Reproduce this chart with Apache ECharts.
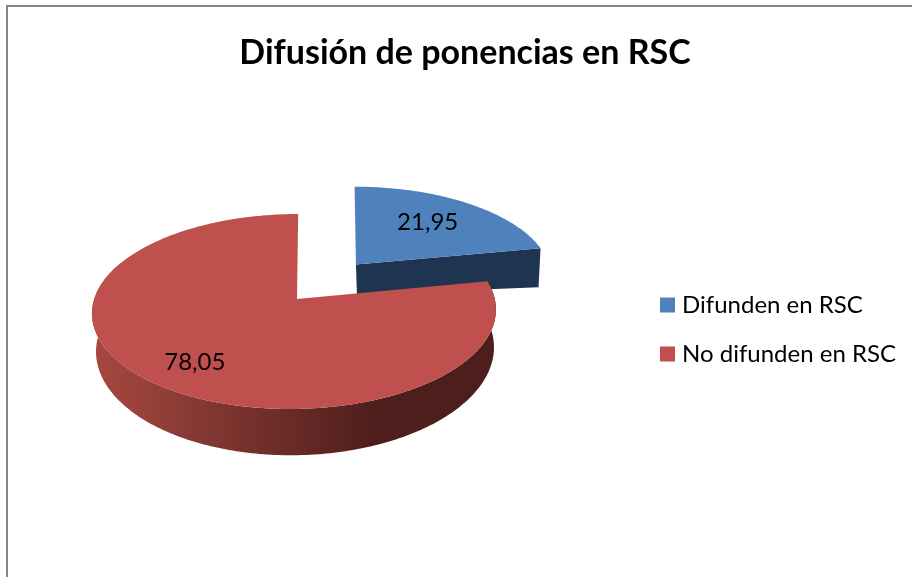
<!DOCTYPE html>
<html>
<head>
<meta charset="utf-8">
<title>Difusión de ponencias en RSC</title>
<script src="https://cdn.jsdelivr.net/npm/echarts@6/dist/echarts.min.js"></script>
<style>
  html, body { margin: 0; padding: 0; background: #fff; }
  #chart { width: 912px; height: 577px; }
</style>
</head>
<body>
<div id="chart"></div>
<script>
var categories = ['Difunden en RSC', 'No difunden en RSC']
var values = [21.95, 78.05]
var topColors = ['#4f81bd', '#c0504d']
var total = values[0] + values[1]

// the plane of the pie, seen in perspective
var apexX = 297
var apexY = 299
var scaleX = 200.3
var scaleY = 95.9
var persp = 0.128
var skew = 0.04
var explode = [0.49, 0]
var rimShift = [0, -0.0125]
var apexNudge = [-2, 0]
var labelRadius = [0.66, 0.78]
var labelNudge = [[-4, 0], [8, 1]]
var font = 'Lato, "Noto Sans", sans-serif'

function project (u, v) {
  var w = 1 + persp * v
  var y = apexY - scaleY * v / w
  return [apexX + scaleX * u / w + skew * (apexY - y), y]
}

function lower (p, v) {
  return [apexX + 1 + (p[0] - apexX) * 0.985, p[1] + 37 / (1 + 0.2 * v)]
}

function rad (deg) {
  return deg * Math.PI / 180
}

function sliceAngles (index) {
  var start = 0
  for (var i = 0; i < index; i++) start += values[i] / total * 360
  return [start, start + values[index] / total * 360]
}

function renderSlice (index) {
  return function (params, api) {
    var angles = sliceAngles(index)
    var mid = rad((angles[0] + angles[1]) / 2)
    var ou = Math.sin(mid) * explode[index]
    var ov = Math.cos(mid) * explode[index]
    var apex = project(ou, ov)
    apex[0] += apexNudge[index]
    var top = [apex]
    var rim = []
    var steps = Math.ceil(angles[1] - angles[0])
    for (var s = 0; s <= steps; s++) {
      var a = rad(angles[0] + (angles[1] - angles[0]) * s / steps)
      var u = ou + rimShift[index] + Math.sin(a)
      var v = ov + Math.cos(a)
      rim.push({ p: project(u, v), v: v })
      top.push(project(u, v))
    }
    var side = []
    var sideFill
    if (index === 0) {
      // the cut face of the pulled out slice, deeper at the rim
      var last = rim[rim.length - 1]
      side = [apex, last.p, [last.p[0] - 2, last.p[1] + 39], [apex[0] + 1, apex[1] + 30]]
      sideFill = '#1f3450'
    } else {
      var wall = rim.filter(function (r, i) { return i < 215 })
      side = wall.map(function (r) { return r.p })
      wall.slice().reverse().forEach(function (r) { side.push(lower(r.p, r.v)) })
      sideFill = {
        type: 'linear',
        global: true,
        x: 95,
        y: 0,
        x2: 375,
        y2: 0,
        colorStops: [
          { offset: 0, color: '#a64840' },
          { offset: 1, color: '#4e1e1c' }
        ]
      }
    }
    var labelPos = project(ou + Math.sin(mid) * labelRadius[index], ov + Math.cos(mid) * labelRadius[index])
    return {
      type: 'group',
      children: [
        { type: 'polygon', shape: { points: side }, style: { fill: sideFill } },
        { type: 'polygon', shape: { points: top }, style: { fill: topColors[index] } },
        {
          type: 'text',
          style: {
            text: String(api.value(0)).replace('.', ','),
            x: labelPos[0] + labelNudge[index][0],
            y: labelPos[1] + labelNudge[index][1],
            align: 'center',
            verticalAlign: 'middle',
            font: '24px ' + font,
            fill: '#000'
          }
        }
      ]
    }
  }
}

var series = categories.map(function (name, i) {
  return {
    name: name,
    type: 'custom',
    coordinateSystem: 'none',
    renderItem: renderSlice(i),
    itemStyle: { color: topColors[i] },
    silent: true,
    clip: false,
    data: [[values[i]]]
  }
})

var chart = echarts.init(document.getElementById('chart'))
chart.setOption({
  animation: false,
  backgroundColor: '#fff',
  title: {
    text: 'Difusión de ponencias en RSC',
    left: 465,
    top: 31,
    textAlign: 'center',
    textStyle: { fontFamily: font, fontSize: 34, fontWeight: 'bold', color: '#000' }
  },
  legend: {
    data: categories,
    orient: 'vertical',
    left: 655,
    top: 288,
    itemWidth: 15,
    itemHeight: 15,
    itemGap: 25,
    icon: 'rect',
    textStyle: { fontFamily: font, fontSize: 24, color: '#000', padding: [0, 0, 0, 2] }
  },
  graphic: [
    { type: 'polyline', shape: { points: [[7, 577], [7, 6], [912, 6]] }, style: { fill: null, stroke: '#868686', lineWidth: 2 }, silent: true }
  ],
  series: series
})
chart.setOption({ title: { left: 460 } })
</script>
</body>
</html>
